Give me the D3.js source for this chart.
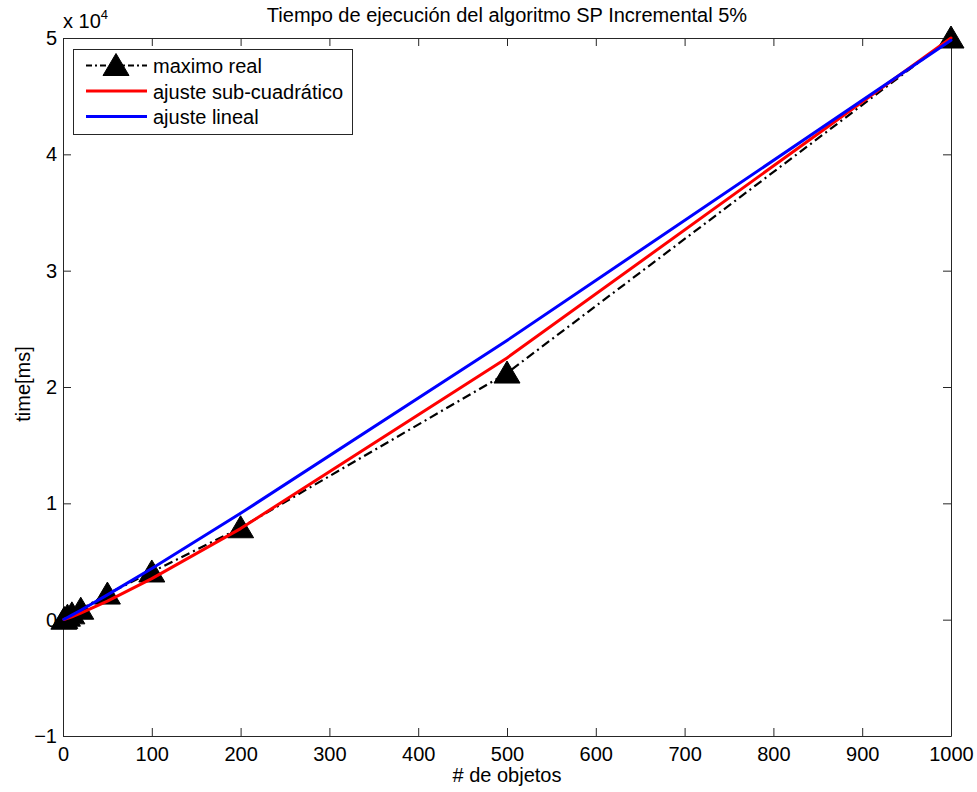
<!DOCTYPE html>
<html>
<head>
<meta charset="utf-8">
<script src="https://cdn.jsdelivr.net/npm/d3@7"></script>
<style>
  html, body { margin: 0; padding: 0; background: #fff; }
  svg { display: block; font-family: "Liberation Sans", Arial, Helvetica, sans-serif; }
</style>
</head>
<body>
<svg id="chart" width="977" height="792"></svg>
<script>
// Number of objects tested
const objetos = [1, 2, 5, 10, 20, 50, 100, 200, 500, 1000];
// Measured maximum execution time (ms)
const maximoReal = [40, 100, 300, 500, 900, 2200, 4100, 7900, 21200, 50000];
// Sub-quadratic fit evaluated at each size (ms)
const ajusteSubCuadratico = [18, 39, 112, 250, 556, 1590, 3530, 7830, 22500, 50000];
// Linear fit evaluated at each size (ms)
const ajusteLineal = [35, 72, 188, 390, 810, 2130, 4400, 9140, 24000, 49800];

const xTicks = [0, 100, 200, 300, 400, 500, 600, 700, 800, 900, 1000];
const yTicks = [-1e4, 0, 1e4, 2e4, 3e4, 4e4, 5e4];

const svg = d3.select("#chart");
const plotLeft = 63, plotRight = 951, plotTop = 38, plotBottom = 736;

const x = d3.scaleLinear().domain([0, 1000]).range([plotLeft, plotRight]);
const y = d3.scaleLinear().domain([-1e4, 5e4]).range([plotBottom, plotTop]);

const axisColor = "#262626";
const fontSize = 20;

// Axes with inward ticks, mirrored on top and right
const tickLen = 8;
const xAxisB = d3.axisBottom(x).tickValues(xTicks).tickSizeInner(-tickLen).tickSizeOuter(0).tickPadding(11).tickFormat(d3.format("d"));
const xAxisT = d3.axisTop(x).tickValues(xTicks).tickSizeInner(-tickLen).tickSizeOuter(0).tickFormat("");
const yAxisL = d3.axisLeft(y).tickValues(yTicks).tickSizeInner(-tickLen).tickSizeOuter(0).tickPadding(6).tickFormat(d => d3.format("d")(d / 1e4));
const yAxisR = d3.axisRight(y).tickValues(yTicks).tickSizeInner(-tickLen).tickSizeOuter(0).tickFormat("");

function styleAxis(g) {
  g.select(".domain").attr("stroke", axisColor).attr("stroke-width", 1);
  g.selectAll(".tick line").attr("stroke", axisColor).attr("stroke-width", 1);
  g.selectAll(".tick text").attr("fill", "#000").attr("font-size", fontSize)
    .attr("font-family", "'Liberation Sans', Arial, sans-serif");
}
svg.append("g").attr("transform", `translate(0,${plotBottom})`).call(xAxisB).call(styleAxis);
svg.append("g").attr("transform", `translate(0,${plotTop})`).call(xAxisT).call(styleAxis);
svg.append("g").attr("transform", `translate(${plotLeft},0)`).call(yAxisL).call(styleAxis);
svg.append("g").attr("transform", `translate(${plotRight},0)`).call(yAxisR).call(styleAxis);

// Exponent label above the y axis
const expo = svg.append("text").attr("x", plotLeft).attr("y", 28)
  .attr("font-size", fontSize).attr("fill", "#000");
expo.append("tspan").text("x 10");
expo.append("tspan").attr("dy", -9).attr("font-size", 13).text("4");

// Title and axis labels
svg.append("text").attr("x", (plotLeft + plotRight) / 2).attr("y", 22)
  .attr("text-anchor", "middle").attr("font-size", fontSize).attr("fill", "#000")
  .text("Tiempo de ejecución del algoritmo SP Incremental 5%");
svg.append("text").attr("x", (plotLeft + plotRight) / 2).attr("y", 782)
  .attr("text-anchor", "middle").attr("font-size", fontSize).attr("fill", "#000")
  .text("# de objetos");
svg.append("text")
  .attr("transform", `translate(30,384) rotate(-90)`)
  .attr("text-anchor", "middle").attr("font-size", fontSize).attr("fill", "#000")
  .text("time[ms]");

// Data lines
const line = d3.line().x(d => x(d[0])).y(d => y(d[1]));
const zip = vals => objetos.map((o, i) => [o, vals[i]]);

const plot = svg.append("g");
const dashDot = "9,4,2,4";

plot.append("path").datum(zip(maximoReal)).attr("d", line)
  .attr("fill", "none").attr("stroke", "#000").attr("stroke-width", 2.2)
  .attr("stroke-dasharray", dashDot);

const triangle = "M0,-12L13,10L-13,10Z";
plot.selectAll(".marker").data(zip(maximoReal)).join("path")
  .attr("class", "marker")
  .attr("transform", d => `translate(${x(d[0])},${y(d[1])})`)
  .attr("d", triangle).attr("fill", "#000").attr("stroke", "#000").attr("stroke-width", 1);

plot.append("path").datum(zip(ajusteSubCuadratico)).attr("d", line)
  .attr("fill", "none").attr("stroke", "#ff0000").attr("stroke-width", 3)
  .attr("stroke-linejoin", "round").attr("stroke-linecap", "round");

plot.append("path").datum(zip(ajusteLineal)).attr("d", line)
  .attr("fill", "none").attr("stroke", "#0000ff").attr("stroke-width", 3)
  .attr("stroke-linejoin", "round").attr("stroke-linecap", "round");

// Legend
const lg = svg.append("g");
lg.append("rect").attr("x", 73.5).attr("y", 49.5).attr("width", 279).attr("height", 85)
  .attr("fill", "#fff").attr("stroke", axisColor).attr("stroke-width", 1);
const entries = [
  { label: "maximo real", color: "#000", dash: dashDot, marker: true },
  { label: "ajuste sub-cuadrático", color: "#ff0000", dash: null, marker: false },
  { label: "ajuste lineal", color: "#0000ff", dash: null, marker: false }
];
entries.forEach((e, i) => {
  const yy = 65.5 + i * 25.5;
  const l = lg.append("line").attr("x1", 86).attr("x2", 147).attr("y1", yy).attr("y2", yy)
    .attr("stroke", e.color).attr("stroke-width", e.marker ? 2.2 : 3);
  if (e.dash) l.attr("stroke-dasharray", "6,3,2,3");
  if (e.marker) {
    lg.append("path").attr("transform", `translate(116,${yy})`).attr("d", triangle)
      .attr("fill", "#000").attr("stroke", "#000");
  }
  lg.append("text").attr("x", 153).attr("y", yy + 7.5).attr("font-size", fontSize)
    .attr("fill", "#000").text(e.label);
});
</script>
</body>
</html>
